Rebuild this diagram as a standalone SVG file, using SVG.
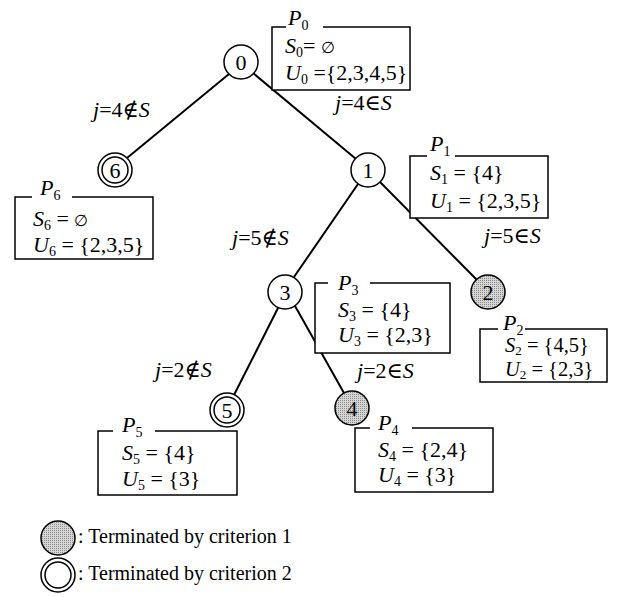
<svg xmlns="http://www.w3.org/2000/svg" width="619" height="597" viewBox="0 0 619 597">
  <defs>
    <pattern id="stipple" width="2" height="2" patternUnits="userSpaceOnUse">
      <rect width="2" height="2" fill="#d6d6d6"/>
      <rect width="1" height="1" fill="#8a8a8a"/>
    </pattern>
    <style>
      text { font-family: "Liberation Serif", "DejaVu Serif", serif; font-size: 22px; fill: #000; }
      .i { font-style: italic; }
      .sub { font-size: 14px; }
      .small { font-size: 20.5px; }
      .small .sub { font-size: 13px; }
      .empty { font-size: 16px; }
      .num { text-anchor: middle; }
      .leg { font-size: 20px; }
      .edge { stroke: #000; stroke-width: 2; fill: none; }
      .node { stroke: #000; stroke-width: 1.5; fill: #fff; }
      .term1 { stroke: #000; stroke-width: 1.5; fill: url(#stipple); }
      .box { stroke: #000; stroke-width: 1.5; fill: #fff; }
      .gap { stroke: #fff; stroke-width: 3; }
      .frame { stroke: #000; stroke-width: 1.5; fill: none; }
    </style>
  </defs>
  <rect width="619" height="597" fill="#fff"/>

  <!-- connectors -->
  <g id="connectors">
    <line class="edge" x1="229" y1="74" x2="127" y2="158"/>
    <line class="edge" x1="253" y1="73" x2="356" y2="159"/>
    <line class="edge" x1="358" y1="184" x2="294" y2="277"/>
    <line class="edge" x1="380" y1="182" x2="477" y2="280"/>
    <line class="edge" x1="278" y1="308" x2="234" y2="395"/>
    <line class="edge" x1="295" y1="306" x2="344" y2="393"/>
  </g>

  <!-- edge labels -->
  <g id="edge-labels">
    <text x="93" y="117"><tspan class="i">j</tspan>=4∉<tspan class="i">S</tspan></text>
    <text x="335" y="110"><tspan class="i">j</tspan>=4∈<tspan class="i">S</tspan></text>
    <text x="232" y="245"><tspan class="i">j</tspan>=5∉<tspan class="i">S</tspan></text>
    <text x="484" y="243"><tspan class="i">j</tspan>=5∈<tspan class="i">S</tspan></text>
    <text x="155" y="377"><tspan class="i">j</tspan>=2∉<tspan class="i">S</tspan></text>
    <text x="357" y="378"><tspan class="i">j</tspan>=2∈<tspan class="i">S</tspan></text>
  </g>

  <!-- subproblem boxes -->
  <g id="P0">
    <rect class="box" x="272" y="27" width="138" height="63"/>
    <line class="gap" x1="286" y1="27" x2="323" y2="27"/>
    <text x="288" y="25"><tspan class="i">P</tspan><tspan class="sub" dy="5">0</tspan></text>
    <text x="285" y="53"><tspan class="i">S</tspan><tspan class="sub" dy="4">0</tspan><tspan dy="-4">= </tspan><tspan class="empty">∅</tspan></text>
    <text x="285" y="80"><tspan class="i">U</tspan><tspan class="sub" dy="4">0</tspan><tspan dy="-4"> ={2,3,4,5}</tspan></text>
  </g>
  <g id="P1">
    <rect class="box" x="410" y="156" width="138" height="62"/>
    <line class="gap" x1="427" y1="156" x2="455" y2="156"/>
    <text x="430" y="151"><tspan class="i">P</tspan><tspan class="sub" dy="5">1</tspan></text>
    <text x="430" y="180"><tspan class="i">S</tspan><tspan class="sub" dy="4">1</tspan><tspan dy="-4"> = {4}</tspan></text>
    <text x="430" y="208"><tspan class="i">U</tspan><tspan class="sub" dy="4">1</tspan><tspan dy="-4"> = {2,3,5}</tspan></text>
  </g>
  <g id="P6">
    <rect class="box" x="15" y="197" width="138" height="62"/>
    <line class="gap" x1="32" y1="197" x2="72" y2="197"/>
    <text x="40" y="195"><tspan class="i">P</tspan><tspan class="sub" dy="5">6</tspan></text>
    <text x="33" y="226"><tspan class="i">S</tspan><tspan class="sub" dy="4">6</tspan><tspan dy="-4"> =  </tspan><tspan class="empty">∅</tspan></text>
    <text x="33" y="252"><tspan class="i">U</tspan><tspan class="sub" dy="4">6</tspan><tspan dy="-4"> = {2,3,5}</tspan></text>
  </g>
  <g id="P3">
    <rect class="box" x="315" y="283" width="135" height="70"/>
    <line class="gap" x1="328" y1="283" x2="370" y2="283"/>
    <text x="338" y="290"><tspan class="i">P</tspan><tspan class="sub" dy="5">3</tspan></text>
    <text x="338" y="317"><tspan class="i">S</tspan><tspan class="sub" dy="4">3</tspan><tspan dy="-4"> = {4}</tspan></text>
    <text x="338" y="342"><tspan class="i">U</tspan><tspan class="sub" dy="4">3</tspan><tspan dy="-4"> = {2,3}</tspan></text>
  </g>
  <g id="P2">
    <rect class="box" x="480" y="329" width="127" height="53"/>
    <line class="gap" x1="498" y1="329" x2="525" y2="329"/>
    <text x="503" y="330"><tspan class="i">P</tspan><tspan class="sub" dy="5">2</tspan></text>
    <text class="small" x="505" y="352"><tspan class="i">S</tspan><tspan class="sub" dy="3">2</tspan><tspan dy="-3"> = {4,5}</tspan></text>
    <text class="small" x="505" y="376"><tspan class="i">U</tspan><tspan class="sub" dy="3">2</tspan><tspan dy="-3"> = {2,3}</tspan></text>
  </g>
  <g id="P5">
    <rect class="box" x="98" y="431" width="139" height="64"/>
    <line class="gap" x1="113" y1="431" x2="155" y2="431"/>
    <text x="122" y="432"><tspan class="i">P</tspan><tspan class="sub" dy="5">5</tspan></text>
    <text x="122" y="460"><tspan class="i">S</tspan><tspan class="sub" dy="4">5</tspan><tspan dy="-4"> = {4}</tspan></text>
    <text x="122" y="486"><tspan class="i">U</tspan><tspan class="sub" dy="4">5</tspan><tspan dy="-4"> = {3}</tspan></text>
  </g>
  <g id="P4">
    <rect class="box" x="355" y="428" width="138" height="64"/>
    <line class="gap" x1="370" y1="428" x2="412" y2="428"/>
    <text x="378" y="430"><tspan class="i">P</tspan><tspan class="sub" dy="5">4</tspan></text>
    <text x="378" y="457"><tspan class="i">S</tspan><tspan class="sub" dy="4">4</tspan><tspan dy="-4"> = {2,4}</tspan></text>
    <text x="378" y="482"><tspan class="i">U</tspan><tspan class="sub" dy="4">4</tspan><tspan dy="-4"> = {3}</tspan></text>
  </g>

  <!-- tree nodes -->
  <g id="node0">
    <circle class="node" cx="241" cy="62" r="17"/>
    <text class="num" x="241" y="70">0</text>
  </g>
  <g id="node1">
    <circle class="node" cx="368" cy="170" r="17"/>
    <text class="num" x="368" y="178">1</text>
  </g>
  <g id="node6">
    <circle class="node" cx="115" cy="170" r="17"/>
    <circle class="frame" cx="115" cy="170" r="13"/>
    <text class="num" x="115" y="178">6</text>
  </g>
  <g id="node3">
    <circle class="node" cx="285" cy="292" r="17"/>
    <text class="num" x="285" y="300">3</text>
  </g>
  <g id="node2">
    <circle class="term1" cx="488" cy="292" r="17"/>
    <text class="num" x="488" y="300">2</text>
  </g>
  <g id="node5">
    <circle class="node" cx="227" cy="410" r="17"/>
    <circle class="frame" cx="227" cy="410" r="13"/>
    <text class="num" x="227" y="418">5</text>
  </g>
  <g id="node4">
    <circle class="term1" cx="352" cy="408" r="17"/>
    <text class="num" x="352" y="416">4</text>
  </g>

  <!-- legend -->
  <g id="legend">
    <circle class="term1" cx="58" cy="538" r="17"/>
    <text class="leg" x="78" y="543">: Terminated by criterion 1</text>
    <circle class="node" cx="58" cy="575" r="17"/>
    <circle class="frame" cx="58" cy="575" r="13"/>
    <text class="leg" x="78" y="580">: Terminated by criterion 2</text>
  </g>
</svg>
